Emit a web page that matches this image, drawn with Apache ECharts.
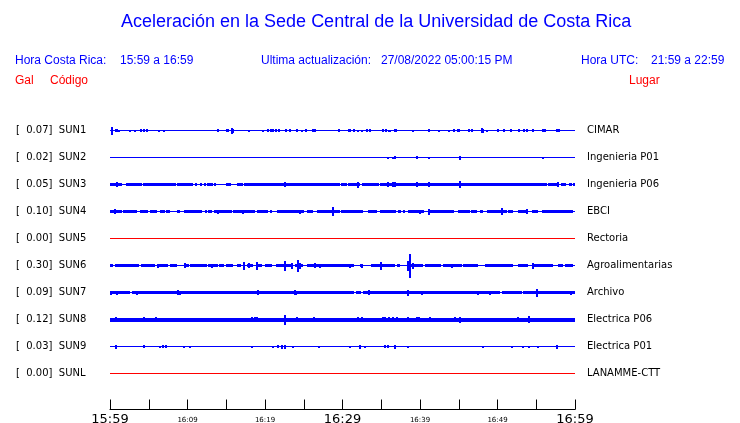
<!DOCTYPE html>
<html>
<head>
<meta charset="utf-8">
<script src="https://cdn.jsdelivr.net/npm/echarts@6/dist/echarts.min.js"></script>
<style>html,body{margin:0;padding:0;background:#fff}#c{width:740px;height:423px}</style>
</head>
<body>
<div id="c"></div>
<script>
// ---------------- DATA ----------------
const stations = ['SUN1','SUN2','SUN3','SUN4','SUN5','SUN6','SUN7','SUN8','SUN9','SUNL'];
const peaksGal = [0.07,0.02,0.05,0.10,0.00,0.30,0.09,0.12,0.03,0.00];
const places = ['CIMAR','Ingenieria P01','Ingenieria P06','EBCI','Rectoria','Agroalimentarias','Archivo','Electrica P06','Electrica P01','LANAMME-CTT'];

// x axis: minutes after 15:59 (local time)
const tickMinutes = [0,10,20,30,40,50,60];
const tickLabels = ['15:59','16:09','16:19','16:29','16:39','16:49','16:59'];
const bigLabels = ['15:59','16:29','16:59'];

// Continuous noise bands per station: [startMinute, endMinute, halfAmplitude (% of trace spacing)]
const sun1Band = [];
const sun2Band = [];
const sun3Band = [[0,1.55,5.5],[2.1,4.1,5.5],[4.3,8.5,5.5],[8.6,10.7,5.5],[11.0,11.3,5.5],[11.6,11.9,5.5],[12.1,12.4,5.5],[12.5,13.3,5.5],[13.4,13.7,5.5],[15.0,15.6,5.5],[16.4,17.2,5.5],[17.3,29.7,5.5],[29.8,30.6,5.5],[30.7,31.7,5.5],[31.8,32.3,5.5],[32.5,34.7,5.5],[34.8,56.4,5.5],[56.5,57.8,5.5],[58.2,58.9,5.5],[59.2,59.6,5.5],[59.8,60,5.5]];
const sun4Band = [[0,1.55,5],[1.7,3.5,5],[3.9,4.9,5],[5.2,6.1,5],[6.5,7.1,5],[7.2,7.7,5],[8.6,9.0,5],[9.5,11.0,5],[11.1,11.9,5],[12.3,12.6,5],[12.7,13.2,5],[13.4,15.7,5],[15.9,18.7,5],[19.0,20.4,5],[20.6,20.9,5],[21.5,24.5,5],[24.7,25.1,5],[25.4,26.2,5],[26.7,29.7,5],[29.8,32.6,5],[33.3,34.5,5],[34.8,36.8,5],[37.2,37.6,5],[37.8,38.1,5],[38.5,40.6,5],[41.0,44.3,5],[44.9,46.5,5],[46.7,47.4,5],[47.7,48.1,5],[48.6,51.2,5],[51.4,52.0,5],[52.6,53.9,5],[54.4,55.2,5],[55.7,59.7,5]];
const sun5Band = [];
const sun6Band = [[0,0.4,5],[0.65,3.7,5],[4.0,5.8,5],[6.1,7.5,5],[7.7,8.6,5],[9.5,10.1,5],[10.3,12.5,5],[12.6,13.9,5],[14.1,14.7,5],[15.0,15.9,5],[16.4,16.9,5],[17.7,18.5,5],[19.0,19.7,5],[20.0,20.9,5],[21.4,23.6,5],[23.9,24.9,5],[25.4,31.4,5],[32.2,32.6,5],[33.7,36.8,5],[37.0,37.4,5],[38.3,40.3,5],[40.6,42.6,5],[43.0,45.4,5],[45.5,47.4,5],[48.4,52.0,5],[52.6,53.9,5],[54.6,57.2,5],[57.8,58.4,5],[58.7,59.7,5]];
const sun7Band = [[0,2.6,5.5],[2.8,6.1,5.5],[6.2,31.5,5.5],[31.7,32.3,5.5],[32.6,50.3,5.5],[50.6,53.2,5.5],[53.3,60,5.5]];
const sun8Band = [[0,60,7.5]];
const sun9Band = [];
const sunLBand = [];

// Individual bursts per station: [minute, halfAmplitude (% of trace spacing)]
const sun1Spikes = [[0.3,14],[0.8,6],[0.9,6],[1.2,4],[2.6,4],[3.2,4],[4.0,5],[4.4,5],[4.8,5],[6.3,4],[7.0,4],[13.9,5],[15.1,5],[15.2,5],[15.7,11],[15.9,8],[17.9,4],[19.7,4],[20.4,5],[20.8,5],[21.0,5],[21.4,6],[21.8,5],[22.7,5],[23.2,5],[24.1,5],[24.8,4],[25.3,5],[26.2,6],[26.5,6],[29.5,5],[30.8,6],[31.0,6],[31.5,5],[32.0,4],[32.5,4],[33.2,6],[33.5,5],[35.2,6],[35.6,5],[36.0,4],[36.1,4],[36.8,6],[36.9,6],[39.1,4],[41.2,5],[42.5,4],[43.7,4],[44.4,5],[44.9,5],[45.0,5],[46.3,6],[46.7,6],[48.0,10],[48.1,7],[48.6,4],[50.1,6],[50.8,5],[51.7,5],[52.8,5],[53.4,5],[53.8,5],[54.6,5],[55.9,5],[56.1,5],[57.7,6],[57.9,6]];
const sun2Spikes = [[35.9,4],[36.5,4],[36.8,5],[39.6,6],[41.2,4],[45.2,8],[55.9,4]];
const sun3Spikes = [[0.9,9],[22.6,9],[32.0,11],[35.9,9],[36.5,9],[36.8,9],[39.6,9],[41.2,9],[45.2,13],[57.8,9]];
const sun4Spikes = [[0.65,9],[13.9,7],[17.2,7],[24.5,7],[28.8,16],[40.0,7],[41.2,11],[46.7,6],[50.6,13],[53.8,9]];
const sun5Spikes = [];
const sun6Spikes = [[6.2,7],[9.7,9],[13.1,7],[17.3,15],[17.9,9],[19.0,15],[22.6,18],[23.5,11],[24.3,22],[24.5,11],[26.5,9],[27.1,7],[31.0,7],[32.5,7],[35.0,15],[38.5,18],[38.7,44],[39.1,11],[44.1,7],[54.6,11]];
const sun7Spikes = [[0.1,7],[0.9,7],[3.5,7],[8.8,9],[9.0,7],[13.9,6],[19.1,9],[23.9,9],[24.0,7],[33.4,9],[38.5,11],[40.3,7],[47.5,7],[49.0,7],[55.1,15],[59.5,7]];
const sun8Spikes = [[0.8,9],[4.4,9],[5.9,9],[18.3,10],[18.7,10],[19.0,9],[20.9,7],[22.6,18],[24.1,9],[26.3,9],[31.2,7],[32.0,9],[32.5,9],[33.5,7],[35.2,9],[35.5,9],[36.0,9],[36.5,9],[37.0,9],[38.5,9],[39.6,9],[39.9,9],[41.3,9],[44.5,9],[45.2,11],[47.4,7],[48.1,7],[51.6,7],[52.6,9],[54.1,13],[55.9,7],[57.2,7]];
const sun9Spikes = [[0.8,7],[4.4,5],[6.5,4],[6.8,5],[7.2,5],[9.5,4],[10.3,4],[18.3,4],[21.0,4],[21.7,6],[22.2,7],[22.6,7],[23.6,4],[27.0,4],[31.0,4],[32.3,7],[32.9,4],[35.5,5],[35.9,5],[36.8,7],[38.5,4],[48.1,4],[51.9,4],[53.3,4],[54.1,4],[55.2,4],[57.7,7]];
const sunLSpikes = [];

// ---------------- CHART ----------------
const bands = [sun1Band,sun2Band,sun3Band,sun4Band,sun5Band,sun6Band,sun7Band,sun8Band,sun9Band,sunLBand];
const spikes = [sun1Spikes,sun2Spikes,sun3Spikes,sun4Spikes,sun5Spikes,sun6Spikes,sun7Spikes,sun8Spikes,sun9Spikes,sunLSpikes];
const ROW = 100; // trace spacing in y units
const BLUE = '#0000ff', RED = '#ff0000';
const LBL_FONT = 'DejaVu Sans';

const series = [];
stations.forEach((s, k) => {
  const color = peaksGal[k] === 0 ? RED : BLUE;
  const base = k * ROW;
  // item: [t0, t1, halfAmp, kind]  kind 0 = band, 1 = burst, 2 = baseline
  const items = [[0, 60, 0, 2]]
    .concat(bands[k].map(b => [b[0], b[1], b[2], 0]))
    .concat(spikes[k].map(p => [p[0], p[0], p[1], 1]));
  series.push({
    type: 'custom', silent: true, animation: false,
    data: items,
    renderItem: function (params, api) {
      const t0 = api.value(0), t1 = api.value(1), a = api.value(2), kind = api.value(3);
      const c = api.coord([t0, base]);
      const p0 = api.coord([t0, base - a]);
      const p1 = api.coord([t1, base + a]);
      let x = Math.round(Math.min(p0[0], p1[0]));
      let w = Math.round(Math.abs(p1[0] - p0[0]));
      if (kind === 1) { x = Math.round(p0[0]) - 1; w = 2; }
      const cy = Math.floor(c[1]);
      const H = Math.max(1, Math.round(Math.abs(p1[1] - p0[1])));
      const y = cy - Math.floor((H - 1) / 2);
      return { type: 'rect', shape: { x: x, y: y, width: Math.max(w, 1), height: H }, style: { fill: color } };
    }
  });
});

const chart = echarts.init(document.getElementById('c'), null, { renderer: 'canvas' });
chart.setOption({
  animation: false,
  backgroundColor: '#ffffff',
  grid: { left: 110, right: 165, top: 103.5, bottom: 13.5, outerBoundsMode: 'none', containLabel: false },
  xAxis: {
    type: 'value', min: 0, max: 60, interval: 5, position: 'bottom',
    axisLine: { show: true, onZero: false, lineStyle: { color: '#000', width: 1 } },
    axisTick: { show: true, inside: true, length: 10, lineStyle: { color: '#000' } },
    splitLine: { show: false },
    axisLabel: {
      margin: 3,
      formatter: function (v) {
        const i = tickMinutes.indexOf(v);
        if (i < 0) return '';
        const t = tickLabels[i];
        return bigLabels.indexOf(t) >= 0 ? '{b|' + t + '}' : '{s|' + t + '}';
      },
      rich: {
        b: { fontFamily: LBL_FONT, fontSize: 13, color: '#000', lineHeight: 14 },
        s: { fontFamily: LBL_FONT, fontSize: 7, color: '#000', lineHeight: 14, padding: [2, 0, 0, 0] }
      }
    }
  },
  yAxis: [
    {
      type: 'value', inverse: true, min: -100, max: 1033.3333, interval: 100,
      axisLine: { show: false }, axisTick: { show: false }, splitLine: { show: false },
      axisLabel: {
        margin: 94, align: 'left', fontFamily: LBL_FONT, fontSize: 10, color: '#000',
        formatter: function (v) {
          const k = Math.round(v / ROW);
          if (Math.abs(v - k * ROW) > 1e-6 || k < 0 || k >= stations.length) return '';
          return '[  ' + peaksGal[k].toFixed(2) + ']  ' + stations[k];
        }
      }
    },
    {
      type: 'value', inverse: true, min: -100, max: 1033.3333, interval: 100, position: 'right',
      axisLine: { show: false }, axisTick: { show: false }, splitLine: { show: false },
      axisLabel: {
        margin: 12, align: 'left', fontFamily: LBL_FONT, fontSize: 10, color: '#000',
        formatter: function (v) {
          const k = Math.round(v / ROW);
          if (Math.abs(v - k * ROW) > 1e-6 || k < 0 || k >= places.length) return '';
          return places[k];
        }
      }
    }
  ],
  graphic: [
    { type: 'text', left: 121, top: 13, style: { text: 'Aceleración en la Sede Central de la Universidad de Costa Rica', font: '18px "Liberation Sans"', fill: BLUE } },
    { type: 'text', left: 15, top: 55, style: { text: 'Hora Costa Rica:', font: '12px "Liberation Sans"', fill: BLUE } },
    { type: 'text', left: 120, top: 55, style: { text: '15:59 a 16:59', font: '12px "Liberation Sans"', fill: BLUE } },
    { type: 'text', left: 261, top: 55, style: { text: 'Ultima actualización:', font: '12px "Liberation Sans"', fill: BLUE } },
    { type: 'text', left: 381, top: 55, style: { text: '27/08/2022 05:00:15 PM', font: '12px "Liberation Sans"', fill: BLUE } },
    { type: 'text', left: 581, top: 55, style: { text: 'Hora UTC:', font: '12px "Liberation Sans"', fill: BLUE } },
    { type: 'text', left: 651, top: 55, style: { text: '21:59 a 22:59', font: '12px "Liberation Sans"', fill: BLUE } },
    { type: 'text', left: 15, top: 75, style: { text: 'Gal', font: '12px "Liberation Sans"', fill: RED } },
    { type: 'text', left: 50, top: 75, style: { text: 'Código', font: '12px "Liberation Sans"', fill: RED } },
    { type: 'text', left: 629, top: 75, style: { text: 'Lugar', font: '12px "Liberation Sans"', fill: RED } }
  ],
  series: series.map(s => Object.assign(s, { xAxisIndex: 0, yAxisIndex: 0 }))
});
</script>
</body>
</html>
